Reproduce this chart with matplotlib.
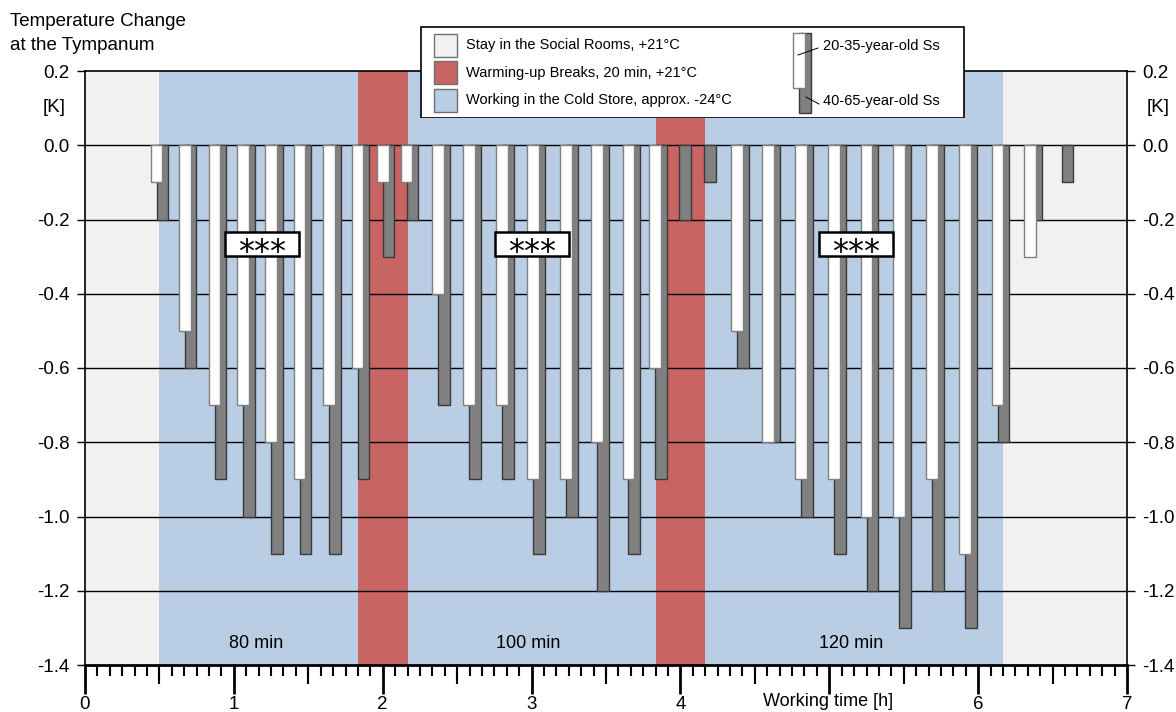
import numpy as np
import matplotlib
matplotlib.use("Agg")
import matplotlib.pyplot as plt
from matplotlib.patches import Rectangle
from matplotlib.ticker import MultipleLocator, FixedLocator, NullFormatter

plt.rcParams['font.family'] = ['Liberation Sans', 'DejaVu Sans']

# measurement times [h] (pair centres)
times = [0.50, 0.69, 0.89, 1.08, 1.27, 1.46, 1.66, 1.85, 2.02, 2.18,
         2.39, 2.60, 2.82, 3.03, 3.25, 3.46, 3.67, 3.85, 4.01, 4.18,
         4.40, 4.61, 4.83, 5.05, 5.27, 5.49, 5.71, 5.93, 6.15, 6.37, 6.58]
# temperature change at tympanum [K]
young = [-0.1, -0.5, -0.7, -0.7, -0.8, -0.9, -0.7, -0.6, -0.1, -0.1,
         -0.4, -0.7, -0.7, -0.9, -0.9, -0.8, -0.9, -0.6, 0.0, 0.0,
         -0.5, -0.8, -0.9, -0.9, -1.0, -1.0, -0.9, -1.1, -0.7, -0.3, 0.0]
old = [-0.2, -0.6, -0.9, -1.0, -1.1, -1.1, -1.1, -0.9, -0.3, -0.2,
       -0.7, -0.9, -0.9, -1.1, -1.0, -1.2, -1.1, -0.9, -0.2, -0.1,
       -0.6, -0.8, -1.0, -1.1, -1.2, -1.3, -1.2, -1.3, -0.8, -0.2, -0.1]

# phases (start, end in h)
social = [(0.0, 0.5), (6.167, 7.0)]
breaks = [(1.833, 2.167), (3.833, 4.167)]
cold = [(0.5, 1.833), (2.167, 3.833), (4.167, 6.167)]
cold_labels = ['80 min', '100 min', '120 min']
stars_x = [1.19, 3.0, 5.18]
stars_y = -0.265

C_SOCIAL = '#f1f1f1'
C_BREAK = '#c86563'
C_COLD = '#b9cde4'

fig = plt.figure(figsize=(11.76, 7.12), dpi=100)
ax = fig.add_axes([85/1176, 47/712, 1042/1176, 594/712])

for a, b in social:
    ax.axvspan(a, b, color=C_SOCIAL, lw=0, zorder=0.1)
for a, b in breaks:
    ax.axvspan(a, b, color=C_BREAK, lw=0, zorder=0.1)
for a, b in cold:
    ax.axvspan(a, b, color=C_COLD, lw=0, zorder=0.1)

t = np.array(times)
y1 = np.array(young)
y2 = np.array(old)
w = 0.078
m2 = y2 != 0
m1 = y1 != 0
ax.bar(t[m2] + 0.02, y2[m2], width=w, color='#808080', edgecolor='#3a3a3a', lw=1, zorder=2)
ax.bar(t[m1] - 0.02, y1[m1], width=w, color='white', edgecolor='#808080', lw=1, zorder=3)

# gridlines
for yv in np.arange(-1.2, 0.01, 0.2):
    ax.axhline(yv, color='black', lw=1, zorder=0.5)

for (a, b), lab in zip(cold, cold_labels):
    ax.text((a + b) / 2 - 0.02, -1.343, lab, ha='center', va='center', fontsize=13, zorder=4)

# significance boxes
bw, bh = 0.497, 0.065
for xs in stars_x:
    ax.add_patch(Rectangle((xs - bw / 2, stars_y - bh / 2), bw, bh, fc='white',
                           ec='black', lw=1.8, zorder=5))
    ax.text(xs, stars_y - 0.046, '***', ha='center', va='baseline', fontsize=23,
            family='DejaVu Sans', zorder=6)

ax.set_xlim(0, 7)
ax.set_ylim(-1.4, 0.2)
ax.yaxis.set_major_locator(MultipleLocator(0.2))
ax.set_yticklabels([f'{v:.1f}' for v in ax.get_yticks()])
ax.tick_params(axis='y', which='major', direction='out', length=6, width=1,
               labelsize=13.5, left=True, right=True, labelleft=True, labelright=True, pad=5)
ax.xaxis.set_major_locator(FixedLocator(range(8)))
ax.set_xticklabels(['0', '1', '2', '3', '4', '', '6', '7'])
ax.xaxis.set_minor_locator(MultipleLocator(1/12))
ax.tick_params(axis='x', which='major', direction='out', length=21, width=2, labelsize=13.5, pad=1)
ax.tick_params(axis='x', which='minor', direction='out', length=8, width=1.5)

sec = ax.secondary_xaxis('bottom')
sec.xaxis.set_major_locator(FixedLocator(np.arange(0.5, 7, 1.0)))
sec.xaxis.set_major_formatter(NullFormatter())
sec.tick_params(axis='x', direction='out', length=14, width=1.5)
sec.spines['bottom'].set_visible(False)

for s in ax.spines.values():
    s.set_linewidth(1.2)
    s.set_color('black')
ax.spines['bottom'].set_linewidth(2)

ax.text(4.99, -0.062, 'Working time [h]', transform=ax.get_xaxis_transform(),
        ha='center', va='center', fontsize=13)

fig.text(10/1176, 1 - 21/712, 'Temperature Change', ha='left', va='center', fontsize=13.5)
fig.text(10/1176, 1 - 46/712, 'at the Tympanum', ha='left', va='center', fontsize=13.5)
fig.text(54/1176, 1 - 108/712, '[K]', ha='center', va='center', fontsize=13.5)
fig.text(1158/1176, 1 - 108/712, '[K]', ha='center', va='center', fontsize=13.5)

# legend box
lax = fig.add_axes([420/1176, 1 - 118/712, 545/1176, 92/712])
lax.set_xlim(0, 545)
lax.set_ylim(92, 0)
lax.axis('off')
lax.add_patch(Rectangle((0.5, 0.5), 544, 91, fc='white', ec='black', lw=1.2))
entries = [(C_SOCIAL, 'Stay in the Social Rooms, +21°C'),
           (C_BREAK, 'Warming-up Breaks, 20 min, +21°C'),
           (C_COLD, 'Working in the Cold Store, approx. -24°C')]
for i, (c, lab) in enumerate(entries):
    yc = 19 + 27.5 * i
    lax.add_patch(Rectangle((14, yc - 11.5), 23, 23, fc=c, ec='#707070', lw=1))
    lax.text(46, yc, lab, va='center', ha='left', fontsize=10.5)
lax.add_patch(Rectangle((379, 7), 12, 80, fc='#808080', ec='#3a3a3a', lw=1))
lax.add_patch(Rectangle((373, 7), 12, 55, fc='white', ec='#808080', lw=1))
lax.plot([378, 398], [29, 22], color='black', lw=0.7)
lax.plot([386, 399], [71, 78], color='black', lw=0.7)
lax.text(403, 20, '20-35-year-old Ss', va='center', ha='left', fontsize=10.5)
lax.text(403, 75, '40-65-year-old Ss', va='center', ha='left', fontsize=10.5)

fig.savefig('out.png', dpi=100)
